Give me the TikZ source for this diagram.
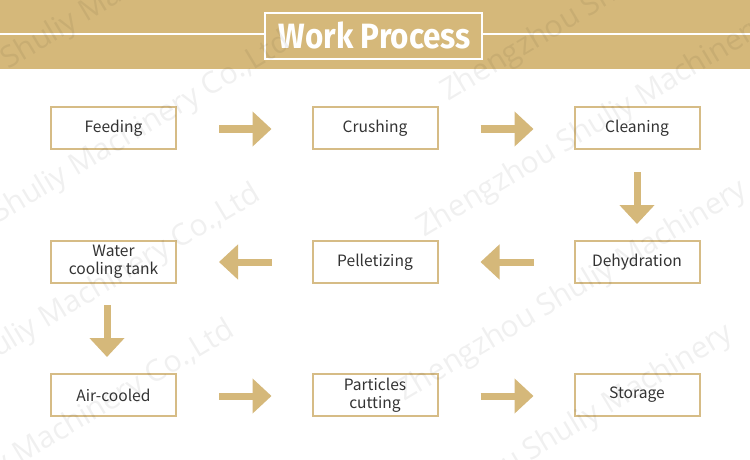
\documentclass[tikz,border=0pt]{standalone}
\usepackage{fontspec}
\setmainfont{Noto Sans CJK SC}
\newfontfamily\titlefont{Fira Sans}
\newfontfamily\wmfont{Open Sans}
\usetikzlibrary{arrows.meta,calc}
\definecolor{tan}{HTML}{D5B87A}
\definecolor{boxline}{HTML}{D6BC86}
\definecolor{txt}{HTML}{333333}
\tikzset{
  stepbox/.style={draw=boxline, line width=1.5pt, minimum width=93.75pt, minimum height=31.5pt,
    inner sep=0pt, align=center, text=txt, font=\fontsize{11.7pt}{13.6pt}\selectfont},
  blockarrow/.style={draw=tan, line width=5.25pt, -{Triangle[length=14.25pt,width=25.5pt]}},
  wm/.style={font=\wmfont\fontsize{22.5pt}{26pt}\selectfont, text=black, opacity=0.06, rotate=31, anchor=base west, inner sep=0pt}
}
\begin{document}
\begin{tikzpicture}[x=0.75pt,y=-0.75pt]
\useasboundingbox (0,0) rectangle (750,460);
\fill[white] (0,0) rectangle (750,460);
\fill[tan] (0,0) rectangle (750,69);
% title
\node[draw=white, line width=1.5pt, minimum width=162.75pt, minimum height=34.5pt, inner sep=0pt] (title) at (373.5,36) {};
\node[text=white, inner sep=0pt] (titletext) at (375,35) {\resizebox{144pt}{20pt}{\titlefont\bfseries Work Process}};
\coordinate (lend) at (0,34);
\coordinate (rend) at (750,34);
\draw[white, line width=1.2pt] (lend) -- (title.west |- lend);
\draw[white, line width=1.2pt] (title.east |- rend) -- (rend);
% boxes
\node[stepbox] (feed) at (113.5,128) {Feeding};
\node[stepbox] (crush) at (375,128) {Crushing};
\node[stepbox] (clean) at (637,128) {Cleaning};
\node[stepbox] (water) at (113.5,262) {Water\\cooling tank};
\node[stepbox] (pellet) at (375,262) {Pelletizing};
\node[stepbox] (dehyd) at (637,262) {Dehydration};
\node[stepbox] (air) at (113.5,395) {Air-cooled};
\node[stepbox] (cut) at (375,395) {Particles\\cutting};
\node[stepbox] (store) at (637,395) {Storage};
% arrows
\draw[blockarrow] ($(feed.east)+(42,1)$) -- ($(crush.west)+(-40,1)$);
\draw[blockarrow] ($(crush.east)+(42,1)$) -- ($(clean.west)+(-40,1)$);
\draw[blockarrow] ($(clean.south)+(0,22)$) -- ($(dehyd.north)+(0,-16)$);
\draw[blockarrow] ($(dehyd.west)+(-40,0)$) -- ($(pellet.east)+(42,0)$);
\draw[blockarrow] ($(pellet.west)+(-40,0)$) -- ($(water.east)+(42,0)$);
\draw[blockarrow] ($(water.south)+(-6.5,21)$) -- ($(air.north)+(-6.5,-16)$);
\draw[blockarrow] ($(air.east)+(42,1)$) -- ($(cut.west)+(-40,1)$);
\draw[blockarrow] ($(cut.east)+(42,1)$) -- ($(store.west)+(-40,1)$);
% watermarks
\begin{scope}
\clip (0,0) rectangle (750,460);
\node[wm] (w1) at (-2,224) {Shuliy Machinery Co.,Ltd};
\node[wm] (w2) at (8,70) {Shuliy Machinery Co.,Ltd};
\node[wm] (w3) at (-32,376) {Shuliy Machinery Co.,Ltd};
\node[wm] (w4) at (-58,512) {Shuliy Machinery Co.,Ltd};
\node[wm] (w5) at (448,102) {Zhengzhou Shuliy Machinery};
\node[wm] (w6) at (424,238) {Zhengzhou Shuliy Machinery};
\node[wm] (w7) at (404,402) {Zhengzhou Shuliy Machinery};
\node[wm] (w8) at (390,546) {Zhengzhou Shuliy Machinery};
\end{scope}
\end{tikzpicture}
\end{document}
